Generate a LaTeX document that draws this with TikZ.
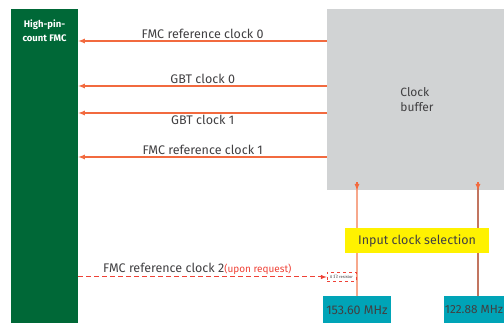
\documentclass[tikz,border=0pt]{standalone}
\usepackage{fontspec}
\setmainfont{Fira Sans}
\usepackage{tikz}
\usetikzlibrary{positioning}

\definecolor{fmcgreen}{HTML}{006837}
\definecolor{bufgray}{HTML}{D1D3D4}
\definecolor{clkorange}{HTML}{F26A3F}
\definecolor{clksalmon}{HTML}{F7A88C}
\definecolor{clkbrown}{HTML}{C27560}
\definecolor{selyellow}{HTML}{FFF200}
\definecolor{oscteal}{HTML}{00A4B7}
\definecolor{txtgray}{HTML}{414042}
\definecolor{optred}{HTML}{EF4136}

\begin{document}
\begin{tikzpicture}[
        x=1pt, y=-1pt,
        every node/.style={text=txtgray, font=\fontsize{12.5}{14}\selectfont},
        block/.style={anchor=north west, inner sep=0pt},
        osc/.style={fill=oscteal, minimum height=27pt, inner sep=0pt, font=\fontsize{12.5}{14}\selectfont},
        clock/.style={->, >={latex[scale=1.3]}, clkorange, line width=1.2pt},
        optional/.style={->, >=latex, optred, dash pattern=on 5pt off 3pt, line width=1pt}
    ]
    \useasboundingbox (0,0) rectangle (504,323);

    % FMC connector and clock buffer
    \node[block, fill=fmcgreen, minimum width=67pt, minimum height=320pt] (fmc) at (11,9) {};
    \node[text=white, font=\fontsize{9.5}{14}\selectfont\bfseries, align=center] (fmctitle) at (44.5,31) {High-pin-\\count FMC};
    \node[block, fill=bufgray, minimum width=190pt, minimum height=181pt] (buf) at (327,9) {};
    \node[align=left, font=\fontsize{12}{15}\selectfont] (buftitle) at (417,100) {Clock\\buffer};

    % Oscillators
    \node[osc, minimum width=68pt] (osc1) at (357,310) {153.60 MHz};
    \node[osc, minimum width=60pt, font=\fontsize{11.8}{14}\selectfont] (osc2) at (474,310) {122.88 MHz};
    \coordinate (in2) at ([xshift=4pt]osc2.north);

    % Outputs to the FMC
    \foreach \y/\txt/\pos in {41/FMC reference clock 0/above, 86/GBT clock 0/above, 113/GBT clock 1/below, 157/FMC reference clock 1/above} {
        \draw[clock] (buf.west |- 0,\y) -- (fmc.east |- 0,\y) node[midway, \pos, inner sep=2pt] {\txt};
    }

    % Inputs to the buffer
    \draw[clksalmon, line width=1.2pt] (osc1.north) -- ([yshift=6pt]osc1.north |- buf.south);
    \draw[clkbrown, line width=1.2pt] (in2) -- ([yshift=6pt]in2 |- buf.south);
    \draw[clock] ([yshift=8pt]osc1.north |- buf.south) -- (osc1.north |- buf.south);
    \draw[clock] ([yshift=8pt]in2 |- buf.south) -- (in2 |- buf.south);
    \node[fill=selyellow, minimum width=144pt, minimum height=25pt, inner sep=0pt] (sel) at (417,240.5) {Input clock selection};

    % Optional clock
    \node[draw=optred, dashed, line width=0.7pt, minimum width=29pt, minimum height=9pt, inner sep=0pt, font=\fontsize{4}{5}\selectfont] (res) at (341.5,277) {0 $\Omega$ resistor};
    \draw[optional] (fmc.east |- res.west) -- (res.west);
    \node[anchor=south west, inner sep=0pt] (clk2) at (103,275) {FMC reference clock 2{\color{optred}\fontsize{10}{12}\selectfont(upon request)}};

\end{tikzpicture}
\end{document}
